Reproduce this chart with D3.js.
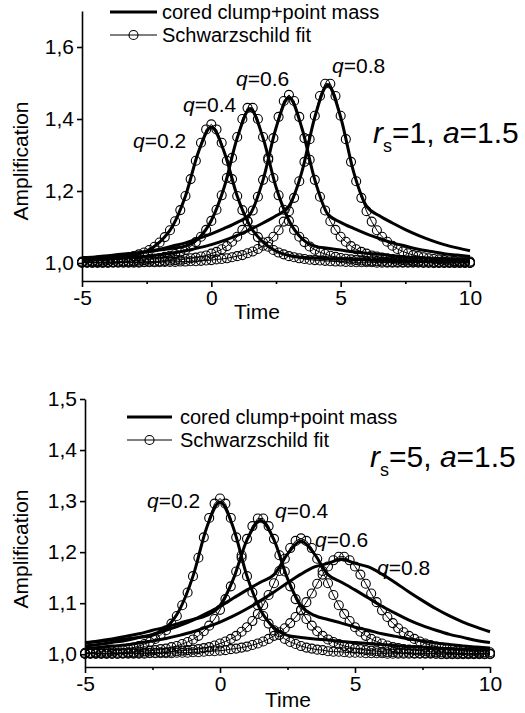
<!DOCTYPE html>
<html><head><meta charset="utf-8">
<script src="https://cdn.jsdelivr.net/npm/d3@7"></script>
<style>body{margin:0;background:#fff}svg{display:block}</style>
</head><body><svg id="c" width="525" height="713"></svg>
<script>
// ---------- DATA ----------
const tFit = [-5,-4.8,-4.6,-4.4,-4.2,-4,-3.8,-3.6,-3.4,-3.2,-3,-2.8,-2.6,-2.4,-2.2,-2,-1.8,-1.6,-1.4,-1.2,-1,-0.8,-0.6,-0.4,-0.2,0,
 0.2,0.4,0.6,0.8,1,1.2,1.4,1.6,1.8,2,2.2,2.4,2.6,2.8,3,3.2,3.4,3.6,3.8,4,4.2,4.4,4.6,4.8,5,5.2,5.4,5.6,5.8,6,6.2,6.4,6.6,6.8,7,7.2,7.4,7.6,7.8,8,8.2,8.4,8.6,8.8,9,9.2,9.4,9.6,9.8,10];
const tClump = [-5,-4.5,-4,-3.5,-3,-2.5,-2,-1.5,-1,-0.5,0,0.5,1,1.5,2,2.5,3,3.5,4,4.5,5,5.5,6,6.5,7,7.5,8,8.5,9,9.5,10];
const qNames = ["0.2","0.4","0.6","0.8"];
const xTicks = [-5,0,5,10];
const yTicksTop = [1.0,1.2,1.4,1.6];
const yTicksBottom = [1.0,1.1,1.2,1.3,1.4,1.5];
const legendNames = ["cored clump+point mass","Schwarzschild fit"];

// top panel (r_s=1, a=1.5): Schwarzschild fits
const topFitQ02 = [1.004,1.004,1.005,1.006,1.007,1.008,1.009,1.011,1.013,1.016,1.019,1.024,1.029,1.036,1.045,1.057,1.072,1.091,1.116,1.147,1.186,1.233,1.284,1.334,1.371,1.385,
 1.371,1.334,1.284,1.233,1.186,1.147,1.116,1.091,1.072,1.057,1.045,1.036,1.029,1.024,1.019,1.016,1.013,1.011,1.009,1.008,1.007,1.006,1.005,1.004,1.004,
 1.003,1.003,1.002,1.002,1.002,1.002,1.001,1.001,1.001,1.001,1.001,1.001,1.001,1.001,1.001,1.001,1.001,1.000,1.000,1.000,1.000,1.000,1.000,1.000,1.000];
const topFitQ04 = [1.002,1.002,1.002,1.002,1.003,1.003,1.003,1.004,1.005,1.005,1.006,1.007,1.008,1.010,1.012,1.014,1.017,1.020,1.025,1.030,1.037,1.046,1.058,1.073,1.092,1.117,1.148,1.188,1.236,1.292,1.350,1.400,1.431,
 1.431,1.400,1.350,1.292,1.236,1.188,1.148,1.117,1.092,1.073,1.058,1.046,1.037,1.030,1.025,1.020,1.017,1.014,1.012,1.010,1.008,1.007,1.006,1.005,1.005,1.004,1.003,1.003,1.003,1.002,1.002,1.002,1.002,
 1.001,1.001,1.001,1.001,1.001,1.001,1.001,1.001,1.001,1.001];
const topFitQ06 = [1.001,1.001,1.001,1.001,1.001,1.001,1.002,1.002,1.002,1.002,1.003,1.003,1.003,1.004,1.004,1.005,1.006,1.007,1.008,1.009,1.011,1.013,1.015,1.018,1.021,1.026,1.031,1.038,1.047,1.059,1.073,1.092,1.116,1.146,1.184,1.231,1.287,1.347,1.406,1.450,1.467,
 1.450,1.406,1.347,1.287,1.231,1.184,1.146,1.116,1.092,1.073,1.059,1.047,1.038,1.031,1.026,1.021,1.018,1.015,1.013,1.011,1.009,1.008,1.007,1.006,1.005,1.004,1.004,1.003,1.003,1.003,1.002,1.002,1.002,1.002,1.001];
const topFitQ08 = [1.001,1.001,1.001,1.001,1.001,1.001,1.001,1.001,1.001,1.001,1.001,1.001,
 1.002,1.002,1.002,1.002,1.003,1.003,1.003,1.004,1.004,1.005,1.005,1.006,1.007,1.008,1.010,1.011,1.013,1.016,1.019,1.022,1.027,1.032,1.039,1.048,1.059,1.073,1.091,1.115,1.144,1.181,1.227,1.281,1.344,1.409,1.464,1.498,
 1.498,1.464,1.409,1.344,1.281,1.227,1.181,1.144,1.115,1.091,1.073,1.059,1.048,1.039,1.032,1.027,1.022,1.019,1.016,1.013,1.011,1.010,1.008,1.007,1.006,1.005,1.005,1.004];
// top panel: cored clump + point mass
const topClumpQ02 = [1.011,1.012,1.014,1.016,1.021,1.033,1.058,1.102,1.186,1.308,1.378,1.308,1.186,1.102,1.058,1.033,1.021,1.016,1.014,1.012,1.011,1.010,1.009,1.008,1.007,1.006,1.006,1.005,1.005,1.004,1.004];
const topClumpQ04 = [1.015,1.017,1.020,1.024,1.027,1.031,1.036,1.041,1.047,1.068,1.118,1.211,1.347,1.428,1.347,1.211,1.118,1.068,1.047,1.041,1.036,1.031,1.027,1.024,1.020,1.017,1.015,1.013,1.011,1.009,1.008];
const topClumpQ06 = [1.013,1.015,1.018,1.022,1.026,1.032,1.038,1.047,1.056,1.068,1.081,1.096,1.113,1.136,1.231,1.375,1.460,1.375,1.231,1.136,1.113,1.096,1.081,1.068,1.056,1.047,1.038,1.032,1.026,1.022,1.018];
const topClumpQ08 = [1.008,1.009,1.011,1.013,1.016,1.019,1.023,1.028,1.034,1.042,1.051,1.063,1.077,1.093,1.111,1.131,1.158,1.253,1.405,1.494,1.405,1.253,1.158,1.131,1.111,1.093,1.077,1.063,1.051,1.042,1.034];

// bottom panel (r_s=5, a=1.5): Schwarzschild fits
const botFitQ02 = [1.003,1.003,1.004,1.005,1.005,1.006,1.008,1.009,1.011,1.013,1.016,1.020,1.024,1.030,1.038,1.047,1.060,1.075,1.096,1.121,1.153,1.189,1.229,1.267,1.295,1.305,
 1.295,1.267,1.229,1.189,1.153,1.121,1.096,1.075,1.060,1.047,1.038,1.030,1.024,1.020,1.016,1.013,1.011,1.009,1.008,1.006,1.005,1.005,1.004,1.003,1.003,
 1.003,1.002,1.002,1.002,1.002,1.001,1.001,1.001,1.001,1.001,1.001,1.001,1.001,1.001,1.001,1.000,1.000,1.000,1.000,1.000,1.000,1.000,1.000,1.000,1.000];
const botFitQ04 = [1.001,1.002,1.002,1.002,1.002,1.003,1.003,1.003,1.004,1.004,1.005,1.006,1.007,1.008,1.010,1.011,1.014,1.016,1.020,1.024,1.029,1.036,1.045,1.056,1.069,1.087,1.108,1.133,1.162,1.194,1.226,1.251,1.266,
 1.266,1.251,1.226,1.194,1.162,1.133,1.108,1.087,1.069,1.056,1.045,1.036,1.029,1.024,1.020,1.016,1.014,1.011,1.010,1.008,1.007,1.006,1.005,1.004,1.004,1.003,1.003,1.003,1.002,1.002,1.002,1.002,1.001,
 1.001,1.001,1.001,1.001,1.001,1.001,1.001,1.001,1.001,1.001];
const botFitQ06 = [1.001,1.001,1.001,1.001,1.001,1.001,1.001,1.002,1.002,1.002,1.002,1.003,1.003,1.003,1.004,1.004,1.005,1.006,1.007,1.008,1.009,1.010,1.012,1.014,1.017,1.021,1.025,1.030,1.036,1.044,1.053,1.065,1.079,1.096,1.116,1.139,1.163,1.187,1.208,1.222,1.227,
 1.222,1.208,1.187,1.163,1.139,1.116,1.096,1.079,1.065,1.053,1.044,1.036,1.030,1.025,1.021,1.017,1.014,1.012,1.010,1.009,1.008,1.007,1.006,1.005,1.004,1.004,1.003,1.003,1.003,1.002,1.002,1.002,1.002,1.001,1.001];
const botFitQ08 = [1.001,1.001,1.001,1.001,1.001,1.001,1.001,1.001,1.001,1.001,1.001,1.001,
 1.002,1.002,1.002,1.002,1.002,1.003,1.003,1.003,1.004,1.004,1.005,1.006,1.006,1.007,1.008,1.010,1.011,1.013,1.015,1.018,1.021,1.025,1.030,1.036,1.043,1.051,1.061,1.073,1.086,1.102,1.119,1.138,1.156,1.172,1.184,1.191,
 1.191,1.184,1.172,1.156,1.138,1.119,1.102,1.086,1.073,1.061,1.051,1.043,1.036,1.030,1.025,1.021,1.018,1.015,1.013,1.011,1.010,1.008,1.007,1.006,1.006,1.005,1.004,1.004];
// bottom panel: cored clump + point mass
const botClumpQ02 = [1.023,1.025,1.028,1.030,1.033,1.037,1.052,1.087,1.153,1.247,1.298,1.247,1.153,1.087,1.052,1.037,1.033,1.030,1.028,1.025,1.023,1.021,1.019,1.017,1.015,1.014,1.012,1.011,1.010,1.009,1.008];
const botClumpQ04 = [1.022,1.026,1.030,1.035,1.040,1.047,1.053,1.061,1.068,1.076,1.095,1.148,1.224,1.262,1.224,1.148,1.095,1.076,1.068,1.061,1.053,1.047,1.040,1.035,1.030,1.026,1.022,1.019,1.016,1.014,1.012];
const botClumpQ06 = [1.016,1.019,1.023,1.027,1.033,1.039,1.047,1.056,1.067,1.080,1.094,1.110,1.126,1.141,1.156,1.196,1.222,1.196,1.156,1.141,1.126,1.110,1.094,1.080,1.067,1.056,1.047,1.039,1.033,1.027,1.023];
const botClumpQ08 = [1.011,1.013,1.016,1.018,1.022,1.026,1.031,1.037,1.044,1.053,1.063,1.075,1.089,1.105,1.122,1.140,1.157,1.171,1.178,1.186,1.178,1.171,1.157,1.140,1.122,1.105,1.089,1.075,1.063,1.053,1.044];

// ---------- DRAWING ----------
const FONT = '"Liberation Sans", Arial, Helvetica, sans-serif';
const svg = d3.select("#c");
const fmtY = d => d3.format(".1f")(d).replace(".", ",");

function drawPanel(cfg) {
  const g = svg.append("g");
  const x = d3.scaleLinear().domain([-5, 10]).range([cfg.x0, cfg.x1]);
  const y = d3.scaleLinear().domain(cfg.yDomain).range([cfg.yB, cfg.yT]);

  // clump model curves (thick)
  const lineC = d3.line().x((d, i) => x(tClump[i])).y(d => y(d)).curve(d3.curveMonotoneX);
  cfg.clump.forEach(arr => g.append("path").attr("d", lineC(arr))
    .attr("fill", "none").attr("stroke", "#000").attr("stroke-width", 3).attr("stroke-linejoin", "round"));

  // Schwarzschild fits (thin line + open circles)
  const lineF = d3.line().x((d, i) => x(tFit[i])).y(d => y(d));
  cfg.fit.forEach(arr => {
    g.append("path").attr("d", lineF(arr)).attr("fill", "none").attr("stroke", "#000").attr("stroke-width", 1);
    g.append("g").selectAll("circle").data(arr).enter().append("circle")
      .attr("cx", (d, i) => x(tFit[i])).attr("cy", d => y(d)).attr("r", 4.5)
      .attr("fill", "none").attr("stroke", "#000").attr("stroke-width", 1.1);
  });

  // axes
  const ya = g.append("g").attr("transform", `translate(${cfg.x0},0)`)
    .call(d3.axisLeft(y).tickValues(cfg.yTicks).tickSize(5).tickSizeOuter(0).tickPadding(3).tickFormat(fmtY));
  const xa = g.append("g").attr("transform", `translate(0,${cfg.yB})`)
    .call(d3.axisBottom(x).tickValues(xTicks).tickSize(6).tickSizeOuter(0).tickPadding(3).tickFormat(d => String(d)));
  g.append("g").attr("transform", `translate(0,${cfg.yB})`)
    .call(d3.axisBottom(x).tickValues([-2.5, 2.5, 7.5]).tickSize(3).tickSizeOuter(0).tickFormat(""))
    .select(".domain").remove();
  [ya, xa].forEach(a => {
    a.selectAll("path,line").attr("stroke", "#000").attr("stroke-width", 1.6);
    a.selectAll("text").attr("font-family", FONT).attr("font-size", 21).attr("fill", "#000");
  });
  g.selectAll(".tick line").attr("stroke-width", 1.6);

  // axis titles
  g.append("text").attr("x", cfg.timeX).attr("y", cfg.timeY).attr("text-anchor", "middle")
    .attr("font-family", FONT).attr("font-size", 21).text("Time");
  g.append("text").attr("transform", `translate(${cfg.ampX},${cfg.ampY}) rotate(-90)`)
    .attr("text-anchor", "middle").attr("dy", "0.35em")
    .attr("font-family", FONT).attr("font-size", 21).text("Amplification");

  // legend
  const L = cfg.legend;
  g.append("line").attr("x1", L.x0).attr("x2", L.x1).attr("y1", L.y1).attr("y2", L.y1)
    .attr("stroke", "#000").attr("stroke-width", 3);
  g.append("line").attr("x1", L.x0).attr("x2", L.x1).attr("y1", L.y2).attr("y2", L.y2)
    .attr("stroke", "#000").attr("stroke-width", 1);
  g.append("circle").attr("cx", (L.x0 + L.x1) / 2).attr("cy", L.y2).attr("r", 4.5)
    .attr("fill", "none").attr("stroke", "#000").attr("stroke-width", 1.1);
  legendNames.forEach((name, i) => g.append("text").attr("x", L.tx).attr("y", i ? L.y2 : L.y1)
    .attr("dy", "0.35em").attr("font-family", FONT).attr("font-size", 20).text(name));

  // q labels
  cfg.qPos.forEach((p, i) => {
    const t = g.append("text").attr("x", p[0]).attr("y", p[1]).attr("font-family", FONT).attr("font-size", 21);
    t.append("tspan").attr("font-style", "italic").text("q");
    t.append("tspan").text("=" + qNames[i]);
  });

  // parameter label
  const pt = g.append("text").attr("x", cfg.par.x).attr("y", cfg.par.y).attr("font-family", FONT).attr("font-size", 30);
  pt.append("tspan").attr("font-style", "italic").text("r");
  pt.append("tspan").attr("font-size", 18).attr("dy", 9).text("s");
  pt.append("tspan").attr("dy", -9).text("=" + cfg.par.rs + ", ");
  pt.append("tspan").attr("font-style", "italic").text("a");
  pt.append("tspan").text("=" + cfg.par.a);
}

drawPanel({
  x0: 82, x1: 470, yB: 281, yT: 11, yDomain: [0.95, 1.7], yTicks: yTicksTop,
  fit: [topFitQ02, topFitQ04, topFitQ06, topFitQ08],
  clump: [topClumpQ02, topClumpQ04, topClumpQ06, topClumpQ08],
  timeX: 257, timeY: 319, ampX: 21, ampY: 161,
  legend: {x0: 110, x1: 157, y1: 12, y2: 35, tx: 162},
  qPos: [[133, 148], [183, 112], [236, 86], [332, 73]],
  par: {x: 373, y: 143, rs: "1", a: "1.5"}
});
drawPanel({
  x0: 85, x1: 490, yB: 667, yT: 399, yDomain: [0.975, 1.5], yTicks: yTicksBottom,
  fit: [botFitQ02, botFitQ04, botFitQ06, botFitQ08],
  clump: [botClumpQ02, botClumpQ04, botClumpQ06, botClumpQ08],
  timeX: 288, timeY: 707, ampX: 21, ampY: 549,
  legend: {x0: 127, x1: 172, y1: 417, y2: 440, tx: 180},
  qPos: [[147, 508], [275, 518], [315, 547], [377, 575]],
  par: {x: 370, y: 467, rs: "5", a: "1.5"}
});
</script></body></html>
